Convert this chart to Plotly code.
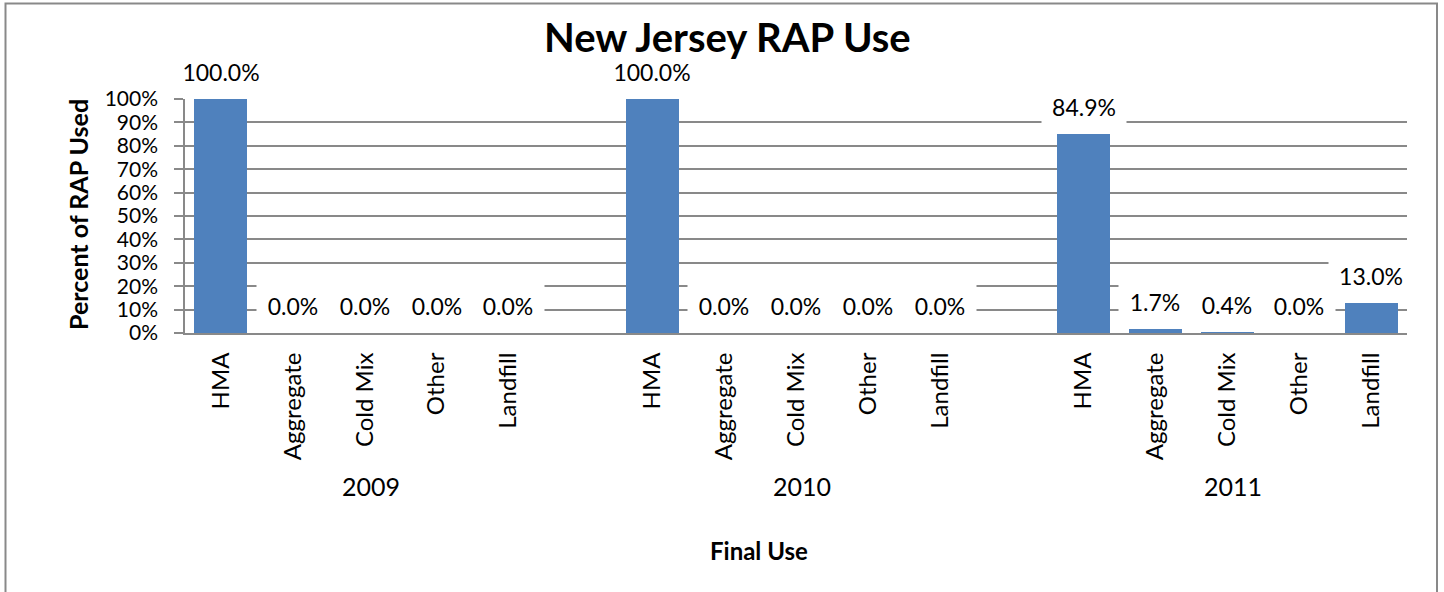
import plotly.graph_objects as go

# ---- data ----
years = ["2009", "2010", "2011"]
uses = ["HMA", "Aggregate", "Cold Mix", "Other", "Landfill"]
pct_2009 = [100.0, 0.0, 0.0, 0.0, 0.0]
pct_2010 = [100.0, 0.0, 0.0, 0.0, 0.0]
pct_2011 = [84.9, 1.7, 0.4, 0.0, 13.0]
values_by_year = [pct_2009, pct_2010, pct_2011]

# ---- style ----
FONT = "Lato"
GRAY = "#898989"
BAR = "#4F81BD"
GROUP_STEP = len(uses) + 1  # one empty slot between years

xs, ys, cat_labels, val_text = [], [], [], []
for g, vals in enumerate(values_by_year):
    for i, v in enumerate(vals):
        xs.append(g * GROUP_STEP + i)
        ys.append(v / 100.0)
        cat_labels.append(uses[i])
        val_text.append(f"{v:.1f}%")

fig = go.Figure()
fig.add_trace(go.Bar(x=xs, y=ys, width=0.737, marker=dict(color=BAR, line=dict(width=0)),
                     hoverinfo="skip"))

annotations = []
# data labels with white boxes
for x, y, t in zip(xs, ys, val_text):
    annotations.append(dict(x=x, y=y, xref="x", yref="y", text=t, showarrow=False,
                            yanchor="bottom", xanchor="center", yshift=2,
                            width=12 * len(t) + 22, height=46, bgcolor="white",
                            font=dict(family=FONT, size=23, color="black")))
# year labels
for g, yr in enumerate(years):
    annotations.append(dict(x=g * GROUP_STEP + (len(uses) - 1) / 2, y=(333 - 486) / 234,
                            xref="x", yref="paper", text=yr, showarrow=False, xshift=6,
                            yanchor="middle", xanchor="center",
                            font=dict(family=FONT, size=25, color="black")))
# axis titles
annotations.append(dict(x=(78 - 185) / 1222, y=(333 - 215) / 234, xref="paper", yref="paper",
                        text="<b>Percent of RAP Used</b>", textangle=-90, showarrow=False,
                        xanchor="center", yanchor="middle",
                        font=dict(family=FONT, size=25, color="black")))
annotations.append(dict(x=(759 - 185) / 1222, y=(333 - 550) / 234, xref="paper", yref="paper",
                        text="<b>Final Use</b>", showarrow=False,
                        xanchor="center", yanchor="middle",
                        font=dict(family=FONT, size=24, color="black")))
# chart title (drawn last so it sits on top)
annotations.append(dict(x=(727 - 185) / 1222, y=(333 - 37) / 234, xref="paper", yref="paper",
                        text="<b>New Jersey RAP Use</b>", showarrow=False,
                        xanchor="center", yanchor="middle",
                        font=dict(family=FONT, size=40, color="black")))

fig.update_layout(
    width=1444, height=592, autosize=False,
    margin=dict(l=185, r=37, t=99, b=259, pad=0),
    paper_bgcolor="white", plot_bgcolor="white",
    showlegend=False, bargap=0,
    annotations=annotations,
    shapes=[dict(type="rect", xref="paper", yref="paper",
                 x0=(5.5 - 185) / 1222, x1=(1437 - 185) / 1222,
                 y0=(333 - 640) / 234, y1=(333 - 3.5) / 234,
                 line=dict(color=GRAY, width=2), fillcolor="rgba(0,0,0,0)", layer="below")],
    xaxis=dict(range=[-0.5, max(xs) + 0.5],
               tickmode="array", tickvals=xs, ticktext=cat_labels, tickangle=-90,
               showgrid=False, zeroline=False, showline=True, linecolor=GRAY, linewidth=2,
               ticks="", ticklabelstandoff=8,
               tickfont=dict(family=FONT, size=24, color="black"), fixedrange=True),
    yaxis=dict(range=[0, 1], dtick=0.1, tick0=0, tickformat=".0%",
               showgrid=True, gridcolor=GRAY, gridwidth=1.5,
               ticks="outside", ticklen=9, tickcolor=GRAY, tickwidth=1.5,
               showline=True, linecolor=GRAY, linewidth=1.5, zeroline=False,
               ticklabelstandoff=12,
               tickfont=dict(family=FONT, size=21, color="black"), fixedrange=True),
)

fig.write_html("out.html", post_script="document.body.style.margin='0';",
               config={"displayModeBar": False})
